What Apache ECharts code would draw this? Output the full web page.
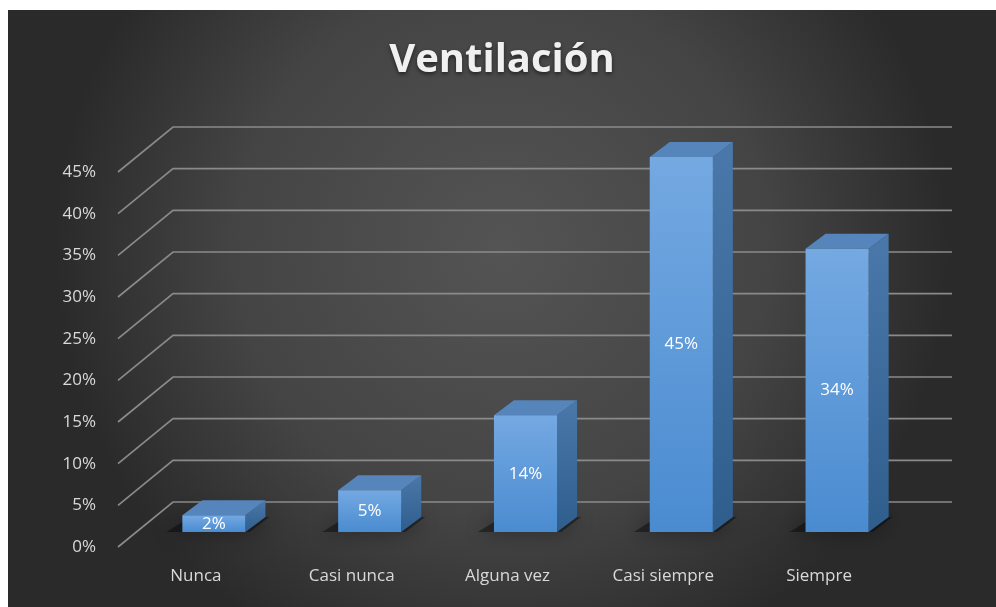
<!DOCTYPE html>
<html><head><meta charset="utf-8">
<script src="https://cdn.jsdelivr.net/npm/echarts@6/dist/echarts.min.js"></script>
<style>
html,body{margin:0;padding:0;background:#ffffff;width:996px;height:607px;overflow:hidden;}
#c{position:absolute;left:8px;top:10px;width:988px;height:597px;}
</style></head>
<body><div id="c"></div>
<script>
const titleText = 'Ventilación';
const categories = ['Nunca', 'Casi nunca', 'Alguna vez', 'Casi siempre', 'Siempre'];
const values = [2, 5, 14, 45, 34];
const yTicks = [0, 5, 10, 15, 20, 25, 30, 35, 40, 45];

const WALL_DX = 55, WALL_DY = 45;   // depth from front edge to back wall
const BAR_DX = 18, BAR_DY = 15;     // depth from front edge to bar front plane
const DEP_DX = 20, DEP_DY = 15;     // bar depth

const chart = echarts.init(document.getElementById('c'));
const font = '"Open Sans", Lato, sans-serif';

chart.setOption({
  backgroundColor: {
    type: 'radial', x: 0.5, y: 0.4, r: 0.75,
    colorStops: [{offset: 0, color: '#545454'}, {offset: 0.6, color: '#444444'}, {offset: 1, color: '#2a2a2a'}]
  },
  title: {
    text: titleText, left: 'center', top: 26,
    textStyle: {color: '#f0f0f0', fontSize: 40, fontWeight: 'bold', fontFamily: font,
      textShadowColor: 'rgba(0,0,0,0.55)', textShadowBlur: 4, textShadowOffsetY: 2}
  },
  grid: {left: 110, right: 99, top: 162, bottom: 60, containLabel: false},
  xAxis: {
    type: 'category', data: categories,
    axisLine: {show: false}, axisTick: {show: false},
    axisLabel: {color: '#d9d9d9', fontSize: 17, fontFamily: font, margin: 21}
  },
  yAxis: {
    type: 'value', min: 0, max: 45, interval: 5,
    axisLine: {show: false}, axisTick: {show: false}, splitLine: {show: false},
    axisLabel: {color: '#d9d9d9', fontSize: 17, fontFamily: font, margin: 22, formatter: v => v + '%'}
  },
  series: [
    {
      type: 'custom', silent: true, z: 1,
      data: yTicks.map(v => [0, v]),
      renderItem: function (params, api) {
        const cs = params.coordSys;
        const y = api.coord([0, api.value(1)])[1];
        const x0 = cs.x;
        const xr = cs.x + cs.width + WALL_DX;
        return {
          type: 'polyline',
          shape: {points: [[x0, y], [x0 + WALL_DX, y - WALL_DY], [xr, y - WALL_DY]]},
          style: {stroke: '#8a8a8a', lineWidth: 1.7, fill: null}
        };
      }
    },
    {
      type: 'custom', z: 2,
      data: values.map((v, i) => [i, v]),
      renderItem: function (params, api) {
        const base = api.coord([api.value(0), 0]);
        const top = api.coord([api.value(0), api.value(1)]);
        const w = api.size([1, 0])[0] * 0.405;
        const xl = base[0] + BAR_DX - w / 2, xr = xl + w;
        const yb = base[1] - BAR_DY, yt = top[1] - BAR_DY;
        const h = yb - yt;
        return {
          type: 'group',
          children: [
            { // floor shadow
              type: 'polygon',
              shape: {points: [[xl - 16, yb], [xr + 4, yb], [xr + DEP_DX + 4, yb - DEP_DY], [xl + DEP_DX - 12, yb - DEP_DY]]},
              style: {fill: 'rgba(0,0,0,0.4)', shadowBlur: 20, shadowColor: 'rgba(0,0,0,1)'}
            },
            { // side face
              type: 'polygon',
              shape: {points: [[xr, yb], [xr, yt], [xr + DEP_DX, yt - DEP_DY], [xr + DEP_DX, yb - DEP_DY]]},
              style: {fill: {type: 'linear', x: 0, y: 0, x2: 0, y2: 1,
                colorStops: [{offset: 0, color: '#4a78aa'}, {offset: 1, color: '#2f5d8c'}]}}
            },
            { // top face
              type: 'polygon',
              shape: {points: [[xl, yt], [xr, yt], [xr + DEP_DX, yt - DEP_DY], [xl + DEP_DX, yt - DEP_DY]]},
              style: {fill: '#5585bb'}
            },
            { // front face
              type: 'rect',
              shape: {x: xl, y: yt, width: w, height: h},
              style: {fill: {type: 'linear', x: 0, y: 0, x2: 0, y2: 1,
                colorStops: [{offset: 0, color: '#74a9e2'}, {offset: 1, color: '#4a8bd0'}]}}
            },
            {
              type: 'text',
              style: {text: api.value(1) + '%', x: xl + w / 2, y: yt + h / 2,
                align: 'center', verticalAlign: 'middle',
                fill: '#ffffff', fontSize: 17, fontFamily: font}
            }
          ]
        };
      }
    }
  ]
});
</script></body></html>
